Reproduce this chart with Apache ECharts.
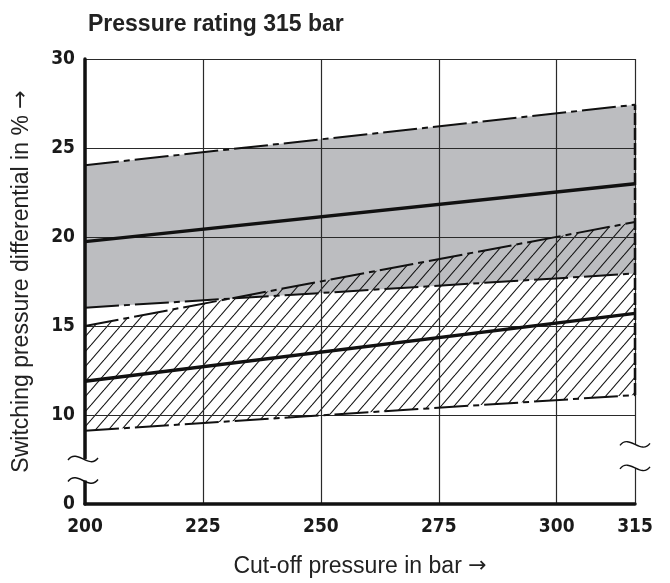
<!DOCTYPE html>
<html><head><meta charset="utf-8">
<script src="https://cdn.jsdelivr.net/npm/echarts@6/dist/echarts.min.js"></script>
<style>html,body{margin:0;padding:0;background:#fff}#c{width:670px;height:583px}</style>
</head><body><div id="c"></div>
<script>
// x positions of the chart's left and right edges (right edge is labelled 315)
const cutoffEdges = [200, 316.6];
const xTickLabels = ['200', '225', '250', '275', '300', '315'];
const yTickLabels = ['0', '10', '15', '20', '25', '30'];

// Grey band (upper / nominal / lower), values at the left and right edge
const greyUpper = [24.03, 27.43];
const greyMid = [19.74, 22.99];
const greyLower = [16.03, 17.95];
// Hatched band (upper / nominal / lower)
const hatchUpper = [15.0, 20.84];
const hatchMid = [11.89, 15.71];
const hatchLower = [9.12, 11.12];

const pts = arr => arr.map((v, i) => [cutoffEdges[i], v]);

// hatch pattern
const pc = document.createElement('canvas');
pc.width = 13; pc.height = 15;
const g = pc.getContext('2d');
g.strokeStyle = '#111'; g.lineWidth = 1.1;
[-13, 0, 13].forEach(o => { g.beginPath(); g.moveTo(o, 15); g.lineTo(o + 13, 0); g.stroke(); });

function band(upper, lower, fill, z) {
  return {
    type: 'custom', z: z, silent: true, clip: true, data: [[cutoffEdges[0], lower[0]]],
    renderItem: (params, api) => {
      const top = upper.map((v, i) => api.coord([cutoffEdges[i], v]));
      const bot = lower.map((v, i) => api.coord([cutoffEdges[i], v])).reverse();
      return {type: 'polygon', shape: {points: top.concat(bot)}, style: {fill: fill, stroke: null}};
    }
  };
}

const chart = echarts.init(document.getElementById('c'));
const dashDot = [34, 5, 6, 5];
const tickFont = {fontFamily: 'DejaVu Sans Condensed, DejaVu Sans', fontWeight: 'bold', fontSize: 19, color: '#1a1a1a'};
const nameFont = {fontFamily: 'Liberation Sans, Arial, sans-serif', fontSize: 23, color: '#222',
  rich: {a: {fontFamily: 'DejaVu Sans', fontSize: 22, color: '#222'}}};

const option = {
  animation: false,
  title: {text: 'Pressure rating 315 bar', left: 83, top: 8,
    textStyle: {fontFamily: 'Liberation Sans, Arial, sans-serif', fontWeight: 'bold', fontSize: 23, color: '#222'}},
  grid: {left: 85, right: 35, top: 59, bottom: 71},
  xAxis: {
    type: 'value', min: cutoffEdges[0], max: cutoffEdges[1], interval: 25, z: 3,
    axisLine: {show: true, onZero: false, lineStyle: {color: '#111', width: 3.5}},
    axisTick: {show: false},
    splitLine: {show: true, lineStyle: {color: '#2a2a2a', width: 1.2}},
    axisLabel: {margin: 14, ...tickFont, showMaxLabel: true, showMinLabel: true,
      formatter: v => v > 310 ? xTickLabels[5] : xTickLabels[Math.round((v - 200) / 25)]},
    name: 'Cut-off pressure in bar {a|\u2192}', nameLocation: 'middle', nameGap: 51, nameTextStyle: nameFont
  },
  yAxis: {
    type: 'value', min: 5, max: 30, interval: 5, z: 3,
    axisLine: {show: true, lineStyle: {color: '#111', width: 3.5}},
    axisTick: {show: false},
    splitLine: {show: true, lineStyle: {color: '#2a2a2a', width: 1.2}},
    axisLabel: {margin: 10, ...tickFont, formatter: v => yTickLabels[Math.round(v / 5) - 1]},
    name: 'Switching pressure differential in % {a|\u2192}', nameLocation: 'middle', nameGap: 52, nameTextStyle: nameFont
  },
  series: [
    band(greyUpper, greyLower, '#bcbdc0', 1),
    band(hatchUpper, hatchLower, {image: pc, repeat: 'repeat'}, 2),
    {type: 'line', data: pts(greyUpper), symbol: 'none', z: 5, lineStyle: {color: '#111', width: 2, type: dashDot}},
    {type: 'line', data: pts(greyMid), symbol: 'none', z: 5, lineStyle: {color: '#111', width: 3.5}},
    {type: 'line', data: pts(greyLower), symbol: 'none', z: 5, lineStyle: {color: '#111', width: 2, type: dashDot}},
    {type: 'line', data: pts(hatchUpper), symbol: 'none', z: 5, lineStyle: {color: '#111', width: 2, type: dashDot}},
    {type: 'line', data: pts(hatchMid), symbol: 'none', z: 5, lineStyle: {color: '#111', width: 3.5}},
    {type: 'line', data: pts(hatchLower), symbol: 'none', z: 5, lineStyle: {color: '#111', width: 2, type: dashDot}},
    {type: 'line', clip: false, symbol: 'none', z: 5,
      data: [[cutoffEdges[1], hatchLower[1]], [cutoffEdges[1], greyUpper[1]]],
      lineStyle: {color: '#111', width: 2.5, type: [12, 3]}}
  ]
};
chart.setOption(option);

// axis break marks
const px = (x, y) => chart.convertToPixel({gridIndex: 0}, [x, y]);
const breaksLeft = [7.53, 6.32], breaksRight = [8.35, 7.03];
const els = [];
function brk(cx, cy) {
  els.push({type: 'bezierCurve', z: 100,
    shape: {x1: cx - 15, y1: cy + 1, cpx1: cx - 6, cpy1: cy - 11, cpx2: cx + 6, cpy2: cy + 11, x2: cx + 15, y2: cy - 1},
    style: {stroke: '#111', lineWidth: 1.4, fill: null}});
}
const [lx, ly1] = px(cutoffEdges[0], breaksLeft[0]);
const [, ly2] = px(cutoffEdges[0], breaksLeft[1]);
els.push({type: 'rect', z: 99, shape: {x: lx - 4, y: ly1, width: 8, height: ly2 - ly1}, style: {fill: '#fff'}});
brk(lx - 2, ly1); brk(lx - 2, ly2);
const [rx, ry1] = px(cutoffEdges[1], breaksRight[0]);
const [, ry2] = px(cutoffEdges[1], breaksRight[1]);
els.push({type: 'rect', z: 99, shape: {x: rx - 3, y: ry1, width: 6, height: ry2 - ry1}, style: {fill: '#fff'}});
brk(rx, ry1); brk(rx, ry2);
chart.setOption({graphic: els});
</script></body></html>
